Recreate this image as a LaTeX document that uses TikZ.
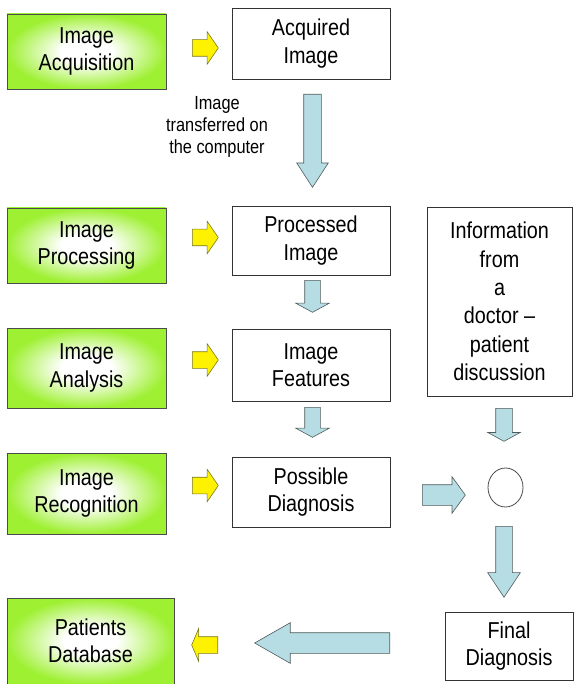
\documentclass[tikz,border=0pt]{standalone}
\usepackage{fontspec}
\setmainfont{Liberation Sans}[FakeStretch=0.86]
\usepackage{tikz}
\usetikzlibrary{shapes.arrows, shapes.geometric}
\definecolor{stagegreen}{RGB}{158,240,50}
\definecolor{arrowblue}{RGB}{183,221,228}
\definecolor{arrowedge}{RGB}{80,90,90}
\definecolor{yellowedge}{RGB}{120,120,30}
\pgfdeclareradialshading{stageglow}{\pgfpoint{0bp}{0bp}}{color(0bp)=(white); color(8bp)=(white); color(25bp)=(stagegreen); color(50bp)=(stagegreen)}
\tikzstyle{stage} = [draw=black!70, line width=0.8pt, shading=stageglow, minimum width=159pt, minimum height=75pt, inner sep=0pt, align=center, font=\fontsize{23}{27.5}\selectfont]
\tikzstyle{result} = [draw=black!80, fill=white, line width=0.8pt, minimum width=158pt, inner sep=0pt, align=center, font=\fontsize{23}{27.5}\selectfont]
\tikzstyle{yarrow} = [single arrow, draw=yellowedge, fill=yellow, anchor=tail, inner xsep=0pt, inner ysep=8pt, minimum width=0pt, single arrow head extend=8pt, minimum height=26pt, single arrow tip angle=111, line width=0.6pt]
\tikzstyle{barrow} = [single arrow, draw=arrowedge, fill=arrowblue, anchor=tail, inner xsep=0pt, minimum width=0pt, line width=0.6pt]

\begin{document}
\begin{tikzpicture}[x=1pt, y=-1pt]
	\useasboundingbox (0,0) rectangle (574,684);

	\node[stage](acquisition) at (86.5,51.5){Image\\Acquisition};
	\node[stage](processing) at (86.5,245.5){Image\\Processing};
	\node[stage, minimum height=80pt](analysis) at (86.5,368){Image\\Analysis};
	\node[stage, minimum height=81pt](recognition) at (86.5,493.5){Image\\Recognition};
	\node[stage, minimum width=167pt, minimum height=86pt](database) at (90.5,641){Patients\\Database};

	\node[result, minimum height=71pt](acquired) at (311,43.5){Acquired\\Image};
	\node[result, minimum height=69pt](processed) at (311,240.5){Processed\\Image};
	\node[result, minimum height=72pt](features) at (311,365){Image\\Features};
	\node[result, minimum height=70pt](possible) at (311,492){Possible\\Diagnosis};
	\node[result, minimum width=145pt, minimum height=189pt, font=\fontsize{23}{28.3}\selectfont](info) at (499.5,301.5){Information\\from\\a\\doctor –\\patient\\discussion};
	\node[result, minimum width=128pt, minimum height=68pt](final) at (509,646){Final\\Diagnosis};
	\node[draw=black!70, ellipse, minimum width=35pt, minimum height=39pt, inner sep=0pt, line width=0.8pt](merge) at (505.5,487.5){};
	\node[font=\fontsize{19}{21.7}\selectfont, align=center](transfer) at (217,127){Image\\transferred on\\the computer};

	\node[yarrow](acqstep) at (192,48){};
	\node[yarrow](procstep) at (192,237.5){};
	\node[yarrow](anastep) at (192,360){};
	\node[yarrow](recstep) at (192,485.5){};
	\node[yarrow, rotate=180, single arrow tip angle=134](dbstep) at (218,645){};

	\node[barrow, rotate=-90, minimum height=93pt, inner ysep=8.5pt, single arrow head extend=7pt, single arrow tip angle=66](transferdown) at (312.5,94){};
	\node[barrow, rotate=-90, minimum height=32pt, inner ysep=7.5pt, single arrow head extend=9pt, single arrow tip angle=123](processeddown) at (312.5,280){};
	\node[barrow, rotate=-90, minimum height=30pt, inner ysep=7.5pt, single arrow head extend=9pt, single arrow tip angle=123](featuresdown) at (312.5,407){};
	\node[barrow, rotate=-90, minimum height=33pt, inner ysep=8pt, single arrow head extend=8pt, single arrow tip angle=123](infodown) at (504,408){};
	\node[barrow, minimum height=43pt, inner ysep=10pt, single arrow head extend=8pt, single arrow tip angle=108](possibleright) at (422,495){};
	\node[barrow, rotate=-90, minimum height=71pt, inner ysep=8pt, single arrow head extend=8pt, single arrow tip angle=67](mergedown) at (504,526){};
	\node[barrow, rotate=180, minimum height=135pt, inner ysep=10pt, single arrow head extend=10pt, single arrow tip angle=59.5](finalleft) at (390,643){};
\end{tikzpicture}
\end{document}
